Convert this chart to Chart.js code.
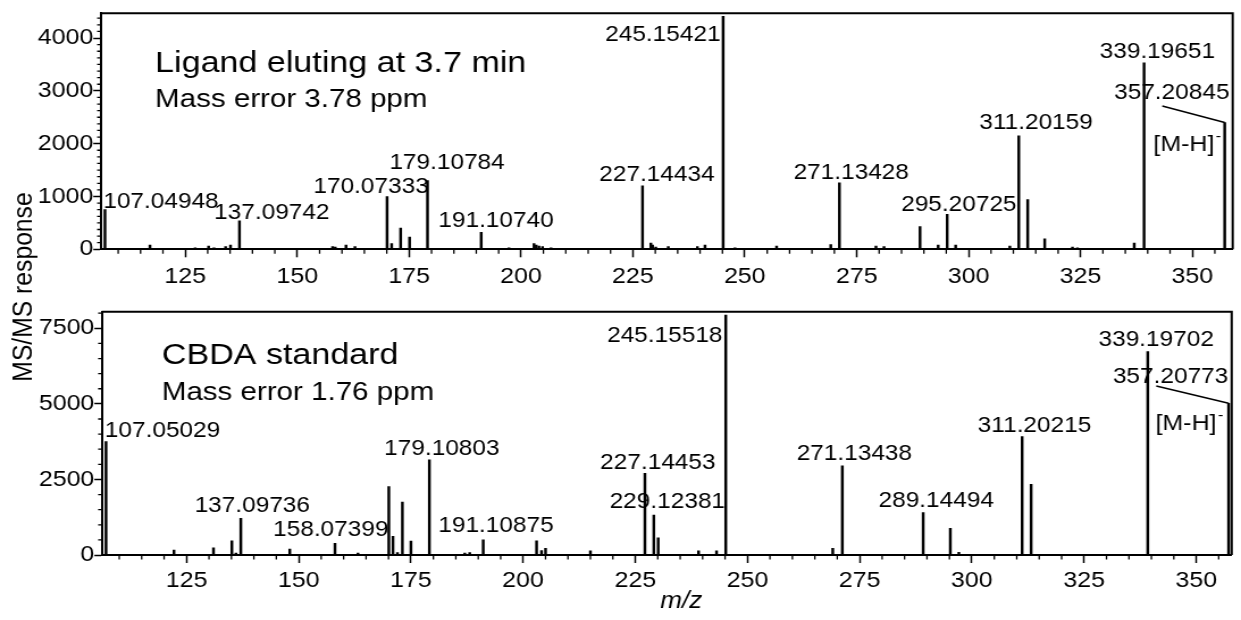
<!DOCTYPE html>
<html><head><meta charset="utf-8">
<script src="https://cdn.jsdelivr.net/npm/chart.js@4.4.1/dist/chart.umd.min.js"></script>
<style>
html,body{margin:0;padding:0;background:#fff;}
#wrap{position:relative;width:1241px;height:620px;overflow:hidden;background:#fff;}
canvas{position:absolute;left:0;top:0;}
</style></head><body>
<div id="wrap">
<canvas id="cB" width="1093" height="620" style="width:1241px;height:620px"></canvas>
<canvas id="cA" width="1093" height="300" style="width:1241px;height:300px"></canvas>
</div>
<script>
// ---------------- DATA ----------------
const ligandMz = [107.04948,117.1,127.2,130.2,131.4,134.0,135.1,137.09742,140.8,157.9,158.5,160.9,162.9,170.07333,171.1,173.1,175.1,179.10784,183.1,185.1,187.7,191.10740,197.3,202.9,203.4,204.0,204.8,206.7,227.14434,229.0,229.4,230.1,232.9,239.4,241.1,245.15421,247.8,257.1,269.2,271.13428,279.3,281.1,289.14,293.2,295.20725,297.1,309.2,311.20159,313.2,317.0,323.2,324.3,337.0,339.19651,357.20845];
const ligandIntensity = [750,80,30,60,30,50,80,540,20,50,40,80,50,1000,110,400,230,1300,20,20,20,320,30,110,80,60,50,30,1200,120,80,40,50,50,80,4410,30,60,90,1260,60,50,430,80,660,80,60,2150,940,200,40,30,120,3530,2400];
const ligandLabels = ['107.04948','137.09742','170.07333','179.10784','191.10740','227.14434','245.15421','271.13428','295.20725','311.20159','339.19651','357.20845'];
const ligandPrecursor = '357.20845';

const standardMz = [107.05029,122.2,131.0,135.1,136.0,137.09736,148.0,158.07399,163.2,170.07,171.0,172.0,173.1,175.0,179.10803,187.0,188.1,191.10875,203.0,204.1,205.0,215.0,227.14453,229.12381,230.1,239.1,243.1,245.15518,269.0,271.13438,289.14494,295.2,297.1,311.20215,313.2,339.19702,357.20773];
const standardIntensity = [3750,160,240,470,60,1210,200,390,60,2260,620,80,1750,460,3150,60,80,500,470,150,220,140,2700,1320,570,140,140,7940,220,2950,1400,880,90,3920,2340,6730,5020];
const standardLabels = ['107.05029','137.09736','158.07399','179.10803','191.10875','227.14453','229.12381','245.15518','271.13438','289.14494','311.20215','339.19702','357.20773'];
const standardPrecursor = '357.20773';

const xTickValues = [125,150,175,200,225,250,275,300,325,350];
const xMinorStep = 5;
const ligandYTicks = [0,1000,2000,3000,4000];
const ligandYMinorStep = 125;
const standardYTicks = [0,2500,5000,7500];
const standardYMinorStep = 500;

const ligandTitle = 'Ligand eluting at 3.7 min';
const ligandSub = 'Mass error 3.78 ppm';
const standardTitle = 'CBDA standard';
const standardSub = 'Mass error 1.76 ppm';
const yAxisTitle = 'MS/MS response';
const xAxisTitle = 'm/z';
const precursorTag = '[M-H]';

// ---------------- LAYOUT (canvas px) ----------------
const FONT = '"Liberation Sans", Arial, Helvetica, sans-serif';
const ligandLabelDx  = [49.3, 28.5, -14.1, 17.2, 13.0, 12.7, -53.1, 10.4, 10.3, 15.2, 11.7, -46.6];
const ligandLabelGap = [1.6, 1.7, 3.3, 11.6, 5.0, 4.7, -24.7, 4.0, 3.3, 6.3, 5.0, 23.3];
const standardLabelDx  = [49.8, 10.1, -3.7, 11.0, 11.2, 11.4, 11.9, -53.7, 10.6, 11.5, 10.9, 7.4, -51.1];
const standardLabelGap = [5.0, 6.6, 7.3, 5.0, 7.7, 4.0, 6.7, -26.7, 6.0, 5.4, 5.0, 5.7, 20.6];

const decor = {
  id: 'decor',
  afterDatasetsDraw(chart, args, o) {
    const ctx = chart.ctx, ca = chart.chartArea;
    const xs = chart.scales.x, ys = chart.scales.y;
    ctx.save();
    ctx.strokeStyle = '#000'; ctx.fillStyle = '#000';
    // frame top/right
    ctx.lineWidth = 2;
    ctx.beginPath();
    ctx.moveTo(ca.left, ca.top); ctx.lineTo(ca.right, ca.top); ctx.lineTo(ca.right, ca.bottom);
    ctx.stroke();
    // minor ticks
    ctx.lineWidth = 1.3;
    ctx.beginPath();
    for (let v = Math.ceil(xs.min / xMinorStep) * xMinorStep; v <= xs.max; v += xMinorStep) {
      if (xTickValues.includes(v)) continue;
      const p = xs.getPixelForValue(v);
      ctx.moveTo(p, ca.bottom); ctx.lineTo(p, ca.bottom + 4.5);
    }
    for (let v = o.yMinor; v <= ys.max; v += o.yMinor) {
      if (o.yTicks.includes(v)) continue;
      const p = ys.getPixelForValue(v);
      ctx.moveTo(ca.left - 3.2, p); ctx.lineTo(ca.left, p);
    }
    ctx.stroke();
    // titles
    ctx.textAlign = 'left'; ctx.textBaseline = 'alphabetic';
    ctx.font = '30px ' + FONT;
    ctx.fillText(o.title, ca.left + o.tdx, ca.top + o.tdy);
    ctx.font = '26px ' + FONT;
    ctx.fillText(o.sub, ca.left + o.tdx, ca.top + o.sdy);
    // peak labels
    ctx.font = '21.5px ' + FONT;
    ctx.textAlign = 'center';
    o.labels.forEach((t, k) => {
      const i = o.mz.findIndex(m => m.toFixed(5) === t);
      const px = xs.getPixelForValue(o.mz[i]);
      const py = ys.getPixelForValue(o.inten[i]);
      ctx.fillText(t, px + o.dx[k], py - o.gap[k]);
      if (t === o.precursor) {
        ctx.lineWidth = 1.5;
        ctx.beginPath();
        ctx.moveTo(px + o.lead[0], py + o.lead[1]); ctx.lineTo(px, py);
        ctx.stroke();
        ctx.font = '22px ' + FONT;
        ctx.textAlign = 'center';
        const cx = px + o.mh[0], by = py + o.mh[1];
        ctx.fillText(precursorTag, cx, by);
        const w = ctx.measureText(precursorTag).width;
        ctx.font = '14px ' + FONT;
        ctx.textAlign = 'left';
        ctx.fillText('-', cx + w / 2 + 1.2, by - 10);
        ctx.font = '21.5px ' + FONT;
        ctx.textAlign = 'center';
      }
    });
    // axis titles
    if (o.axisTitles) {
      ctx.font = 'italic 23px ' + FONT;
      ctx.textAlign = 'center';
      ctx.fillText(xAxisTitle, 600, 608);
      ctx.save();
      ctx.translate(27.5, 287);
      ctx.rotate(-Math.PI / 2);
      ctx.font = '24.7px ' + FONT;
      ctx.fillText(yAxisTitle, 0, 0);
      ctx.restore();
    }
    ctx.restore();
  }
};

function build(id, mz, inten, yTicks, yMax, xMax, pad, yWidth, xHeight, xPad, decorOpts) {
  return new Chart(document.getElementById(id), {
    type: 'bar',
    data: { datasets: [{
      data: mz.map((m, i) => ({ x: m, y: inten[i] })),
      backgroundColor: '#000', borderWidth: 0, barThickness: 1.8
    }]},
    options: {
      responsive: false, animation: false, devicePixelRatio: 1, events: [],
      layout: { padding: pad },
      plugins: { legend: { display: false }, tooltip: { enabled: false }, decor: decorOpts },
      scales: {
        x: {
          type: 'linear', min: 106.1, max: xMax, offset: false,
          grid: { display: true, offset: false, drawOnChartArea: false, drawTicks: true, tickLength: 8, tickWidth: 1.5, tickColor: '#000', color: '#000' },
          border: { display: true, color: '#000', width: 2 },
          ticks: { color: '#000', font: { size: 22, family: FONT }, padding: xPad, maxRotation: 0, autoSkip: false, includeBounds: false, callback: v => String(v) },
          afterBuildTicks: s => { s.ticks = xTickValues.map(v => ({ value: v })); },
          afterFit: s => { s.height = xHeight; }
        },
        y: {
          min: 0, max: yMax,
          grid: { display: true, drawOnChartArea: false, drawTicks: true, tickLength: 6.5, tickWidth: 1.5, tickColor: '#000', color: '#000' },
          border: { display: true, color: '#000', width: 2 },
          ticks: { color: '#000', font: { size: 22, family: FONT }, padding: 0, includeBounds: false, callback: v => String(v) },
          afterBuildTicks: s => { s.ticks = yTicks.map(v => ({ value: v })); },
          afterFit: s => { s.width = yWidth; }
        }
      }
    },
    plugins: [decor]
  });
}

build('cA', ligandMz, ligandIntensity, ligandYTicks, 4470, 359.0,
  { left: 0, right: 7.3, top: 6, bottom: 0 }, 88.7, 50.7, 6,
  { mz: ligandMz, inten: ligandIntensity, labels: ligandLabels, dx: ligandLabelDx, gap: ligandLabelGap,
    precursor: ligandPrecursor, lead: [-55, -16.6], mh: [-35.9, 28.4],
    title: ligandTitle, sub: ligandSub, tdx: 47.9, tdy: 59, sdy: 94,
    yTicks: ligandYTicks, yMinor: ligandYMinorStep, axisTitles: false });

build('cB', standardMz, standardIntensity, standardYTicks, 8050, 357.9,
  { left: 0, right: 8.2, top: 311.7, bottom: 0 }, 89.6, 65, 5,
  { mz: standardMz, inten: standardIntensity, labels: standardLabels, dx: standardLabelDx, gap: standardLabelGap,
    precursor: standardPrecursor, lead: [-63.7, -17.3], mh: [-37.5, 26.7],
    title: standardTitle, sub: standardSub, tdx: 52.9, tdy: 52.3, sdy: 88.3,
    yTicks: standardYTicks, yMinor: standardYMinorStep, axisTitles: true });
</script>
</body></html>
